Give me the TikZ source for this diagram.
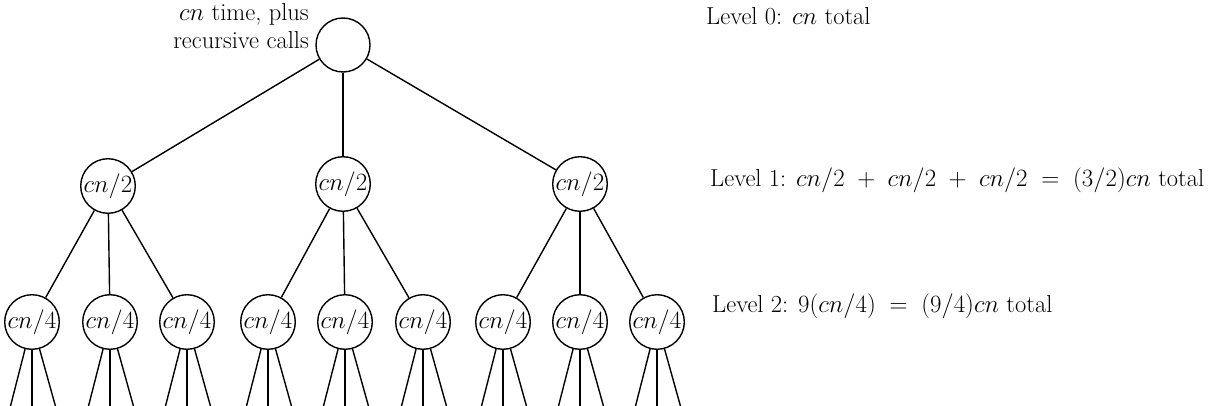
\documentclass[tikz,border=0pt]{standalone}
\begin{document}
\begin{tikzpicture}[x=1pt,y=-1pt,
  every node/.style={font=\fontsize{24.5}{28}\selectfont},
  tnode/.style={circle,draw,line width=1.4pt,minimum size=54pt,inner sep=0pt,font=\fontsize{23}{26}\selectfont},
  edge/.style={line width=1.4pt},
  lab/.style={anchor=west,inner sep=0pt}]
\useasboundingbox (0,0) rectangle (1209,406);
% root
\node[tnode] (r) at (343,45) {};
\node[align=right,anchor=east,inner sep=0pt] (rl) at (309,26) {$cn$ time, plus\\recursive calls};
% level 1
\node[tnode] (a) at (108,186) {$cn/2$};
\node[tnode] (b) at (343,184) {$cn/2$};
\node[tnode] (c) at (580,184) {$cn/2$};
\draw[edge] (r) -- (a);
\draw[edge] (r) -- (b);
\draw[edge] (r) -- (c);
% level 2
\foreach \n/\x/\p in {a1/32/a,a2/110/a,a3/187/a,b1/268/b,b2/345/b,b3/423/b,c1/503/c,c2/580/c,c3/657/c}{
  \node[tnode] (\n) at (\x,322) {$cn/4$};
  \draw[edge] (\p) -- (\n);
  \coordinate (\n l) at (\x-22,408);
  \coordinate (\n m) at (\x,408);
  \coordinate (\n r) at (\x+24,408);
  \draw[edge] (\n) -- (\n l);
  \draw[edge] (\n) -- (\n m);
  \draw[edge] (\n) -- (\n r);
}
% level labels
\node[lab] (l0) at (706,16) {Level 0: $cn$ total};
\node[lab] (l1) at (710,180) {Level 1: $cn/2\;+\;cn/2\;+\;cn/2\;=\;(3/2)cn$ total};
\node[lab] (l2) at (712,306) {Level 2: $9(cn/4)\;=\;(9/4)cn$ total};
\end{tikzpicture}
\end{document}
